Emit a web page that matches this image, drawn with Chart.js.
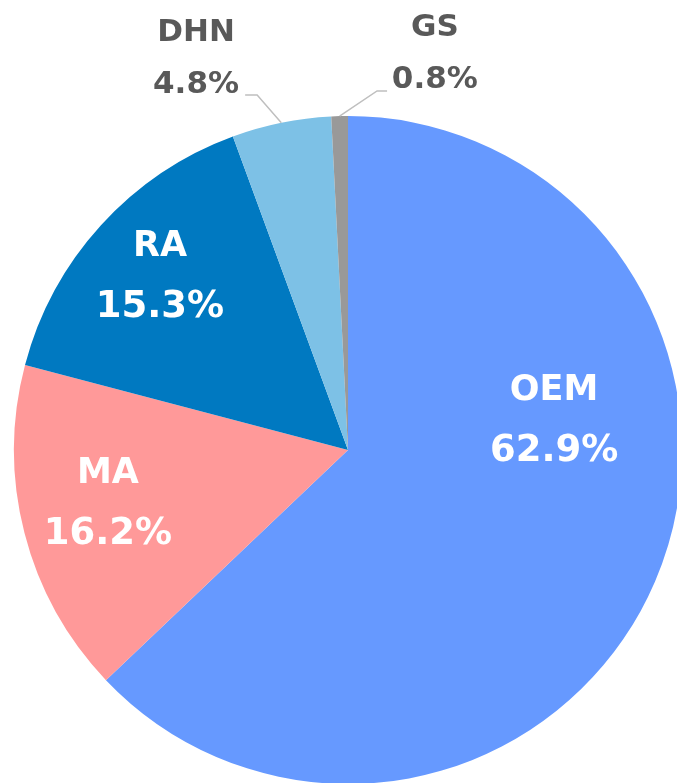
<!DOCTYPE html>
<html>
<head>
<meta charset="utf-8">
<script src="https://cdn.jsdelivr.net/npm/chart.js@4/dist/chart.umd.min.js"></script>
<style>
  html, body { margin: 0; padding: 0; background: #ffffff; }
  #wrap { width: 677px; height: 783px; position: relative; }
</style>
</head>
<body>
<div id="wrap"><canvas id="c" width="677" height="783"></canvas></div>
<script>
// ---- data ----
const categories = ["OEM", "MA", "RA", "DHN", "GS"];
const shares = [62.9, 16.2, 15.3, 4.8, 0.8];
const sliceColors = ["#6699FF", "#FF9999", "#0079C1", "#7DC1E6", "#999999"];

// ---- label layout (relative to pie centre, in radius units) ----
const labelLayout = [
  { dx: 0.617, dy: -0.087, inside: true },
  { dx: -0.719, dy: 0.162, inside: true },
  { dx: -0.563, dy: -0.518, inside: true },
  { dx: -0.455, dy: -1.171, inside: false, elbow: [-0.272, -1.063], end: [-0.308, -1.063] },
  { dx: 0.260, dy: -1.186, inside: false, elbow: [0.087, -1.075], end: [0.117, -1.075] }
];

const labelPlugin = {
  id: 'pieLabels',
  afterDatasetsDraw(chart) {
    const ctx = chart.ctx;
    const meta = chart.getDatasetMeta(0);
    ctx.save();
    meta.data.forEach((arc, i) => {
      const p = arc.getProps(['x', 'y', 'startAngle', 'endAngle', 'outerRadius'], true);
      const R = p.outerRadius;
      const L = labelLayout[i];
      const cx = p.x + L.dx * R;
      const cy = p.y + L.dy * R;
      const name = categories[i];
      const val = shares[i].toFixed(1) + '%';
      ctx.textAlign = 'center';
      ctx.textBaseline = 'middle';
      if (L.inside) {
        ctx.fillStyle = '#FFFFFF';
        ctx.font = 'bold 35px "DejaVu Sans"';
        ctx.fillText(name, cx, cy - 30);
        ctx.font = 'bold 37px "DejaVu Sans"';
        ctx.fillText(val, cx, cy + 30);
      } else {
        const mid = (p.startAngle + p.endAngle) / 2;
        const ax = p.x + Math.cos(mid) * R;
        const ay = p.y + Math.sin(mid) * R;
        ctx.strokeStyle = '#BFBFBF';
        ctx.lineWidth = 1.5;
        ctx.beginPath();
        ctx.moveTo(ax, ay);
        ctx.lineTo(p.x + L.elbow[0] * R, p.y + L.elbow[1] * R);
        ctx.lineTo(p.x + L.end[0] * R, p.y + L.end[1] * R);
        ctx.stroke();
        ctx.fillStyle = '#595959';
        ctx.font = 'bold 31px "DejaVu Sans"';
        ctx.fillText(name, cx, cy - 26);
        ctx.fillText(val, cx, cy + 26);
      }
    });
    ctx.restore();
  }
};

new Chart(document.getElementById('c'), {
  type: 'pie',
  data: {
    labels: categories,
    datasets: [{
      data: shares,
      backgroundColor: sliceColors,
      borderWidth: 0,
      hoverOffset: 0,
      offset: 0,
      radius: 334,
      clip: false
    }]
  },
  options: {
    responsive: false,
    animation: false,
    layout: { padding: { left: 19, right: 0, top: 117, bottom: 0 } },
    plugins: {
      legend: { display: false },
      tooltip: { enabled: false }
    }
  },
  plugins: [labelPlugin]
});
</script>
</body>
</html>
